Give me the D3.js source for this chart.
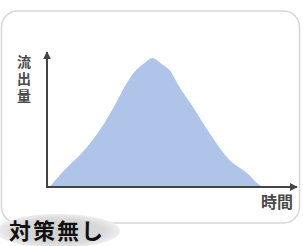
<!DOCTYPE html>
<html>
<head>
<meta charset="utf-8">
<script src="https://cdn.jsdelivr.net/npm/d3@7"></script>
<style>
  body { margin: 0; background: #fff; }
  svg { display: block; font-family: "Noto Sans CJK JP", sans-serif; }
</style>
</head>
<body>
<svg id="chart" width="303" height="246"></svg>
<script>
// runoff over time, no countermeasures
const times = [1, 7, 15, 23, 27.6, 31, 35, 39, 42, 46.4, 49, 53, 58.4, 65, 73, 80, 85, 86.5];
const flow  = [0, 12.6, 27.4, 47.4, 62.2, 74.1, 85.2, 91.9, 95.6, 90.4, 86.7, 74.1, 59.3, 40, 20, 10.4, 1.5, 0];

const yLabel = "流出量";
const xLabel = "時間";
const title = "対策無し";

const svg = d3.select("#chart");

const x = d3.scaleLinear().domain([0, 100]).range([47, 297]);
const y = d3.scaleLinear().domain([0, 100]).range([187, 52]);

const defs = svg.append("defs");
defs.append("marker")
  .attr("id", "arrow")
  .attr("viewBox", "0 0 10 10")
  .attr("refX", 9).attr("refY", 5)
  .attr("markerWidth", 4).attr("markerHeight", 4)
  .attr("orient", "auto")
  .append("path")
  .attr("d", "M0,0 L10,5 L0,10 z")
  .attr("fill", "#444");

const grad = defs.append("radialGradient").attr("id", "blob");
grad.append("stop").attr("offset", "0%").attr("stop-color", "#cfcfcf");
grad.append("stop").attr("offset", "75%").attr("stop-color", "#dadada");
grad.append("stop").attr("offset", "100%").attr("stop-color", "#eeeeee");

// panel
svg.append("rect")
  .attr("x", 1.5).attr("y", 11)
  .attr("width", 298).attr("height", 212)
  .attr("rx", 16)
  .attr("fill", "#fff")
  .attr("stroke", "#d6d6d6")
  .attr("stroke-width", 1.5);

const pts = times.map((t, i) => [t, flow[i]]);

svg.append("path")
  .datum(pts)
  .attr("fill", "#aec4e8")
  .attr("d", d3.area()
    .x(d => x(d[0]))
    .y0(y(0))
    .y1(d => y(d[1]))
    .curve(d3.curveMonotoneX));

// axes
svg.append("line")
  .attr("x1", x(0)).attr("y1", y(0))
  .attr("x2", x(0)).attr("y2", y(100))
  .attr("stroke", "#444").attr("stroke-width", 2)
  .attr("marker-end", "url(#arrow)");

svg.append("line")
  .attr("x1", x(0) - 1).attr("y1", y(0))
  .attr("x2", x(100)).attr("y2", y(0))
  .attr("stroke", "#444").attr("stroke-width", 2)
  .attr("marker-end", "url(#arrow)");

// labels
svg.append("text")
  .attr("x", 24).attr("y", 55)
  .attr("writing-mode", "tb")
  .attr("font-size", 14)
  .attr("letter-spacing", 3)
  .attr("font-weight", "bold")
  .attr("fill", "#4a4a4a")
  .text(yLabel);

svg.append("text")
  .attr("x", 293).attr("y", 208)
  .attr("text-anchor", "end")
  .attr("font-size", 16)
  .attr("font-weight", "bold")
  .attr("fill", "#4a4a4a")
  .text(xLabel);

svg.append("ellipse")
  .attr("cx", 58).attr("cy", 231)
  .attr("rx", 62).attr("ry", 17)
  .attr("fill", "url(#blob)");

svg.append("text")
  .attr("x", 9).attr("y", 239)
  .attr("font-size", 22)
  .attr("font-weight", "bold")
  .attr("letter-spacing", 2)
  .attr("fill", "#111")
  .text(title);
</script>
</body>
</html>
